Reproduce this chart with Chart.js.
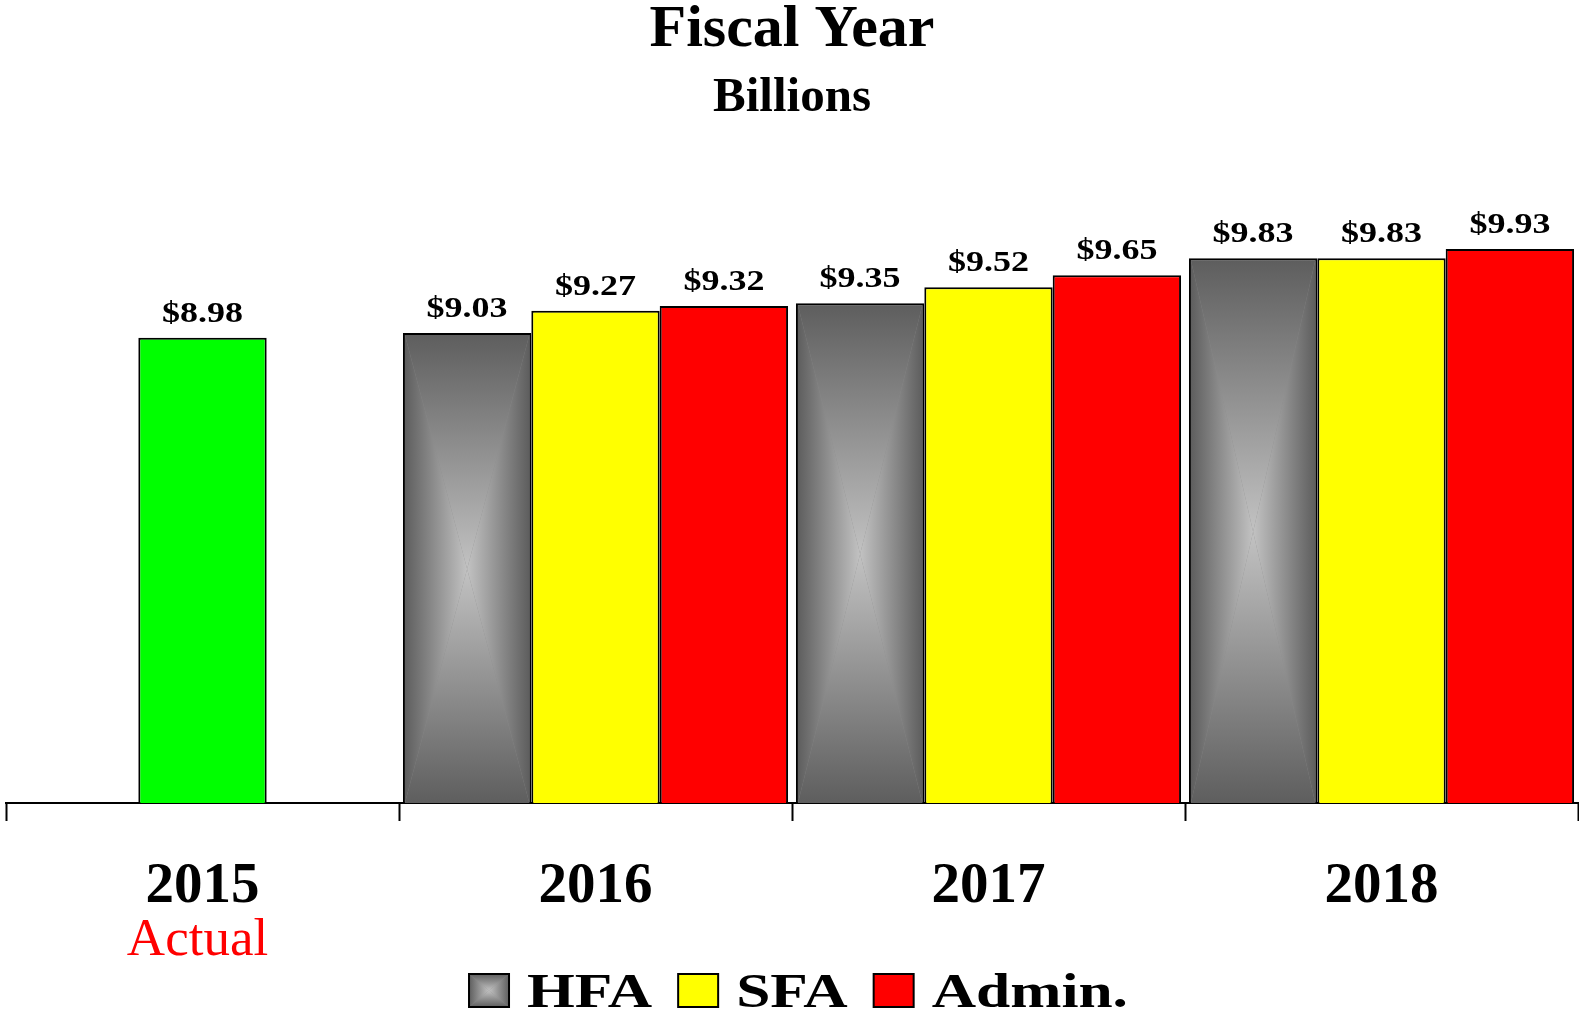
<!DOCTYPE html>
<html>
<head>
<meta charset="utf-8">
<title>Fiscal Year</title>
<script src="https://cdn.jsdelivr.net/npm/chart.js@4.4.1/dist/chart.umd.min.js"></script>
<style>
  html, body { margin: 0; padding: 0; background: #fff; }
  canvas { display: block; }
</style>
</head>
<body>
<canvas id="myChart" width="1579" height="1013"></canvas>
<script>
const years = ['2015', '2016', '2017', '2018'];
const actual = [8.98, null, null, null];
const hfa = [null, 9.03, 9.35, 9.83];
const sfa = [null, 9.27, 9.52, 9.83];
const admin = [null, 9.32, 9.65, 9.93];
const seriesNames = ['HFA', 'SFA', 'Admin.'];
const actualLabel = 'Actual';

const serif = "'Liberation Serif', 'Times New Roman', serif";
const GREEN = '#00ff00', YELLOW = '#ffff00', RED = '#ff0000';
const GRAY_DARK = '#5e5e5e', GRAY_LIGHT = '#c2c2c2';

Chart.defaults.color = '#000';
Chart.defaults.font.family = serif;

// rectangular "from centre" shading used on the HFA bars
function boxGradient(ctx, l, t, r, b) {
  const cx = (l + r) / 2, cy = (t + b) / 2;
  const tris = [
    { a: [l, t], b: [l, b], g: [l, cy, cx, cy] },
    { a: [r, t], b: [r, b], g: [r, cy, cx, cy] },
    { a: [l, t], b: [r, t], g: [cx, t, cx, cy] },
    { a: [l, b], b: [r, b], g: [cx, b, cx, cy] }
  ];
  ctx.save();
  ctx.beginPath();
  ctx.rect(l, t, r - l, b - t);
  ctx.clip();
  ctx.fillStyle = '#8a8a8a';
  ctx.fillRect(l, t, r - l, b - t);
  tris.forEach(tri => {
    const grad = ctx.createLinearGradient(tri.g[0], tri.g[1], tri.g[2], tri.g[3]);
    grad.addColorStop(0, GRAY_DARK);
    grad.addColorStop(1, GRAY_LIGHT);
    ctx.fillStyle = grad;
    ctx.beginPath();
    ctx.moveTo(tri.a[0], tri.a[1]);
    ctx.lineTo(cx, cy);
    ctx.lineTo(tri.b[0], tri.b[1]);
    ctx.closePath();
    ctx.fill();
  });
  ctx.restore();
}

// text squeezed out sideways, the original fonts are wide
function wideText(ctx, text, x, y, stretch) {
  ctx.save();
  ctx.translate(x, y);
  ctx.scale(stretch, 1);
  ctx.fillText(text, 0, 0);
  ctx.restore();
}

const barDecor = {
  id: 'barDecor',
  afterDatasetsDraw(chart) {
    const ctx = chart.ctx;
    const bottom = chart.chartArea.bottom;
    chart.getDatasetMeta(0).data.forEach((bar, i) => {
      if (hfa[i] == null) return;
      const p = bar.getProps(['x', 'y', 'base', 'width'], true);
      const bw = 2;
      boxGradient(ctx, p.x - p.width / 2 + bw, p.y + bw, p.x + p.width / 2 - bw, Math.min(p.base, bottom));
    });

    ctx.save();
    ctx.font = 'bold 30px ' + serif;
    ctx.textAlign = 'center';
    ctx.textBaseline = 'alphabetic';
    ctx.fillStyle = '#000';
    chart.data.datasets.forEach((ds, di) => {
      chart.getDatasetMeta(di).data.forEach((bar, i) => {
        const v = ds.data[i];
        if (v == null) return;
        wideText(ctx, '$' + v.toFixed(2), bar.x, bar.y - 16, 1.2);
      });
    });
    ctx.restore();
  },
  afterDraw(chart) {
    const ctx = chart.ctx;
    ctx.save();

    // "Actual" under the first year
    const xs = chart.scales.x;
    ctx.font = '53px ' + serif;
    ctx.fillStyle = RED;
    ctx.textAlign = 'center';
    ctx.textBaseline = 'alphabetic';
    ctx.fillText(actualLabel, xs.getPixelForValue(actual.findIndex(v => v != null)) - 5, xs.top + 152);

    // legend
    const fills = [null, YELLOW, RED];
    const boxW = 40, boxH = 33, gap = 18, itemGap = 26, stretch = 1.28;
    ctx.font = 'bold 48px ' + serif;
    ctx.textAlign = 'left';
    const widths = seriesNames.map(t => ctx.measureText(t).width * stretch);
    const total = widths.reduce((s, w) => s + boxW + gap + w, 0) + itemGap * (widths.length - 1);
    let x = chart.width / 2 + 9 - total / 2;
    const base = chart.height - 6;
    seriesNames.forEach((t, i) => {
      if (i === 0) {
        boxGradient(ctx, x, base - boxH, x + boxW, base);
      } else {
        ctx.fillStyle = fills[i];
        ctx.fillRect(x, base - boxH, boxW, boxH);
      }
      ctx.lineWidth = 2;
      ctx.strokeStyle = '#000';
      ctx.strokeRect(x, base - boxH, boxW, boxH);
      ctx.fillStyle = '#000';
      wideText(ctx, t, x + boxW + gap, base, stretch);
      x += boxW + gap + widths[i] + itemGap;
    });
    ctx.restore();
  }
};

const ctx = document.getElementById('myChart');
new Chart(ctx, {
  type: 'bar',
  data: {
    labels: years,
    datasets: [
      {
        label: seriesNames[0],
        data: hfa,
        backgroundColor: GRAY_DARK,
        borderColor: '#000',
        borderWidth: 2
      },
      {
        label: seriesNames[1],
        data: sfa.map((v, i) => v != null ? v : actual[i]),
        backgroundColor: c => (actual[c.dataIndex] != null ? GREEN : YELLOW),
        borderColor: '#000',
        borderWidth: 2
      },
      {
        label: seriesNames[2],
        data: admin,
        backgroundColor: RED,
        borderColor: '#000',
        borderWidth: 2
      }
    ]
  },
  options: {
    responsive: false,
    animation: false,
    categoryPercentage: 0.98,
    barPercentage: 1,
    layout: { padding: { top: 0, left: 6, right: 1, bottom: 60 } },
    scales: {
      x: {
        grid: {
          display: true,
          drawOnChartArea: false,
          drawTicks: true,
          tickLength: 18,
          tickWidth: 2,
          tickColor: '#000',
          offset: true
        },
        border: { display: true, color: '#000', width: 2 },
        ticks: {
          color: '#000',
          padding: 38,
          maxRotation: 0,
          font: { size: 57, weight: 'bold', lineHeight: 1 }
        },
        afterFit(scale) { scale.height = 150; }
      },
      y: {
        display: false,
        min: 4,
        max: 11
      }
    },
    plugins: {
      title: {
        display: true,
        text: 'Fiscal Year',
        color: '#000',
        font: { size: 60, weight: 'bold', lineHeight: 1 },
        padding: { top: 0, bottom: 14 }
      },
      subtitle: {
        display: true,
        text: 'Billions',
        color: '#000',
        font: { size: 49, weight: 'bold', lineHeight: 1 },
        padding: { top: 0, bottom: 26 }
      },
      legend: { display: false },
      tooltip: { enabled: false }
    }
  },
  plugins: [barDecor]
});
</script>
</body>
</html>
